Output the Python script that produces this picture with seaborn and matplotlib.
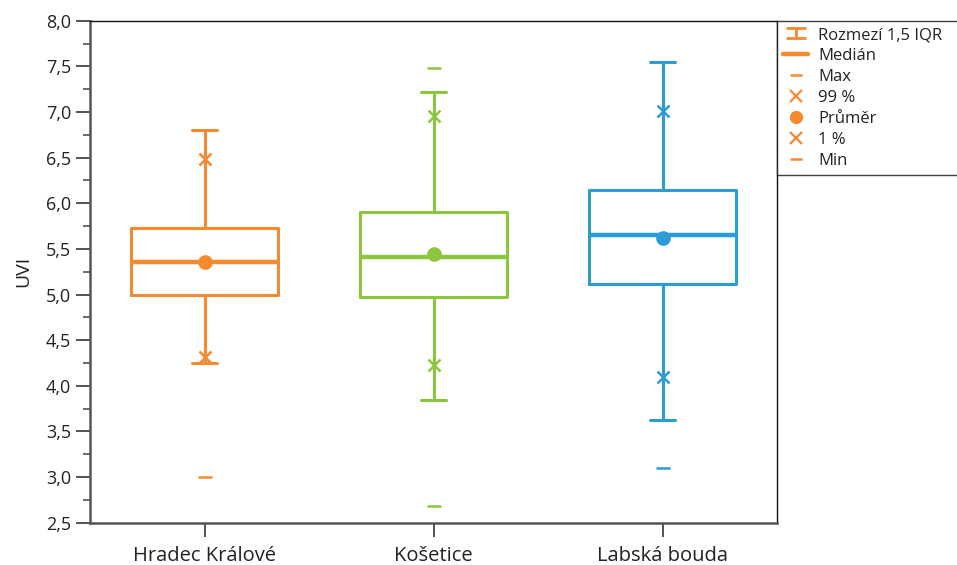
import numpy as np
import pandas as pd
import matplotlib
matplotlib.use("Agg")
import matplotlib.pyplot as plt
from matplotlib.lines import Line2D
from matplotlib.container import ErrorbarContainer
from matplotlib.legend_handler import HandlerErrorbar
from matplotlib.ticker import MultipleLocator, FuncFormatter
import seaborn as sns

#-------------------- values --------------------------------------------------------------
stations = ["Hradec Králové", "Košetice", "Labská bouda"]
colors = ["#F58A2E", "#8CC63F", "#2C9CD6"]

whisk_lo = [4.25, 3.84, 3.63]
q1 = [5.00, 4.97, 5.11]
median = [5.36, 5.41, 5.65]
q3 = [5.73, 5.90, 6.14]
whisk_hi = [6.80, 7.22, 7.55]

p1 = [4.32, 4.23, 4.10]
p99 = [6.48, 6.96, 7.01]
mean = [5.36, 5.44, 5.62]
vmin = [3.00, 2.68, 3.10]
vmax = [6.80, 7.48, 7.55]

legend_labels = ["Rozmezí 1,5 IQR", "Medián", "Max", "99 %", "Průměr", "1 %", "Min"]

#-------------------- build long tables ---------------------------------------------------
# five values per station -> percentiles 0/25/50/75/100 give exactly the box statistics
box_rows = []
for i, st in enumerate(stations):
    for v in [whisk_lo[i], q1[i], median[i], q3[i], whisk_hi[i]]:
        box_rows.append({"station": st, "UVI": v})
box_df = pd.DataFrame(box_rows)


def point_df(values):
    return pd.DataFrame({"station": stations, "UVI": values})


#-------------------- plot ------------------------------------------------------------------
sns.set_style("ticks")
plt.rcParams["font.family"] = ["Open Sans", "DejaVu Sans"]

fig = plt.figure(figsize=(9.57, 5.65), dpi=100)
ax = fig.add_axes([90 / 957, 1 - 522.7 / 565, 687 / 957, (522.7 - 20.7) / 565])

pal = dict(zip(stations, colors))

sns.boxplot(data=box_df, x="station", y="UVI", hue="station", palette=pal,
            order=stations, hue_order=stations, whis=(0, 100), width=0.64,
            fill=False, linewidth=2.2, legend=False, ax=ax,
            medianprops=dict(linewidth=3.2), capwidths=0.11)

common = dict(x="station", y="UVI", hue="station", palette=pal, order=stations,
              hue_order=stations, linestyle="none", errorbar=None, dodge=False,
              legend=False, ax=ax)
sns.pointplot(data=point_df(p99), markers="x", markersize=9, markeredgewidth=1.8, **common)
sns.pointplot(data=point_df(p1), markers="x", markersize=9, markeredgewidth=1.8, **common)
sns.pointplot(data=point_df(mean), markers="o", markersize=8.5, **common)
sns.pointplot(data=point_df(vmax), markers="_", markersize=10, markeredgewidth=1.8, **common)
sns.pointplot(data=point_df(vmin), markers="_", markersize=10, markeredgewidth=1.8, **common)

#-------------------- axes styling ----------------------------------------------------------
ax.set_xlim(-0.5, 2.5)
ax.set_ylim(2.5, 8.0)
ax.yaxis.set_major_locator(MultipleLocator(0.5))
ax.yaxis.set_minor_locator(MultipleLocator(0.25))
ax.yaxis.set_major_formatter(FuncFormatter(lambda v, p: f"{v:.1f}".replace(".", ",")))
ax.set_xlabel("")
ax.set_ylabel("UVI", fontsize=14, color="#222222", labelpad=10)

ax.tick_params(axis="both", which="major", length=10, width=1.3, color="#444444",
               labelcolor="#222222", direction="out")
ax.tick_params(axis="y", which="major", labelsize=13)
ax.tick_params(axis="x", which="major", labelsize=14.5, pad=7)
ax.tick_params(axis="y", which="minor", length=5, width=1.1, color="#444444")

for side in ["left", "bottom"]:
    ax.spines[side].set_color("#555555")
    ax.spines[side].set_linewidth(1.8)
for side in ["top", "right"]:
    ax.spines[side].set_visible(True)
    ax.spines[side].set_color("#111111")
    ax.spines[side].set_linewidth(1.0)

#-------------------- legend ----------------------------------------------------------------
leg_col = colors[0]
iqr = ax.errorbar([np.nan], [np.nan], yerr=[0.1], fmt="none", ecolor=leg_col,
                  elinewidth=2, capsize=7, capthick=2)
handles = [
    iqr,
    Line2D([], [], color=leg_col, linewidth=3.2),
    Line2D([], [], color=leg_col, linestyle="none", marker="_", markersize=9, markeredgewidth=1.8),
    Line2D([], [], color=leg_col, linestyle="none", marker="x", markersize=8, markeredgewidth=1.6),
    Line2D([], [], color=leg_col, linestyle="none", marker="o", markersize=8.5),
    Line2D([], [], color=leg_col, linestyle="none", marker="x", markersize=8, markeredgewidth=1.6),
    Line2D([], [], color=leg_col, linestyle="none", marker="_", markersize=9, markeredgewidth=1.8),
]
leg = ax.legend(handles, legend_labels, loc="upper left", bbox_to_anchor=(1.0, 0.0, 0.28, 1.0),
                mode="expand", borderaxespad=0, frameon=True, fancybox=False,
                fontsize=12, labelspacing=0.3, handlelength=1.5, handletextpad=0.6,
                borderpad=0.38,
                handler_map={ErrorbarContainer: HandlerErrorbar(xerr_size=0.3, yerr_size=0.3)})
leg.get_frame().set_edgecolor("#111111")
leg.get_frame().set_linewidth(1.0)
for t in leg.get_texts():
    t.set_color("#222222")

plt.savefig("out.png", dpi=100)
